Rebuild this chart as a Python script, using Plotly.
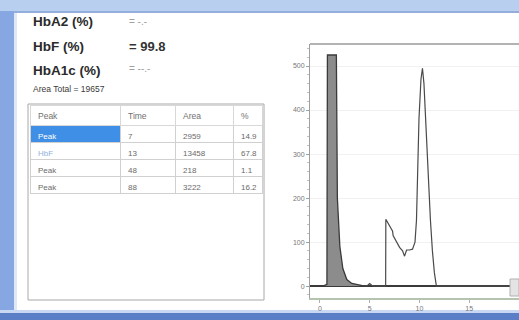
import plotly.graph_objects as go

# ---------------- data ----------------
# results panel
result_labels = ["HbA2 (%)", "HbF (%)", "HbA1c (%)"]
result_values = ["= -.-", "= 99.8", "= --.-"]
area_total = 19657

# peak table
peak_names = ["Peak", "HbF", "Peak", "Peak"]
peak_times = [7, 13, 48, 88]
peak_areas = [2959, 13458, 218, 3222]
peak_pcts = ["14.9", "67.8", "1.1", "16.2"]

# chromatogram: first (off-scale, filled) peak
peak1_time = [0.3, 0.7, 0.75, 1.65, 1.75, 2.0, 2.3, 2.7, 3.2, 4.0, 4.5]
peak1_signal = [0, 4, 525, 525, 200, 90, 40, 15, 6, 2, 0]

# chromatogram: rest of the trace
trace_time = [4.5, 4.8, 5.0, 5.2, 5.5, 6.6, 6.62, 6.9, 7.1, 7.3, 7.35, 7.6, 7.8, 8.0,
              8.3, 8.5, 8.7, 9.0, 9.3, 9.55, 9.7, 9.8, 9.95, 10.15, 10.3, 10.45, 10.7,
              10.9, 11.1, 11.3, 11.5, 11.7, 19.0]
trace_signal = [0, 2, 6, 2, 0, 0, 152, 140, 130, 125, 115, 105, 95, 88,
                80, 68, 82, 82, 84, 100, 150, 270, 380, 470, 495, 460, 330,
                250, 150, 80, 30, 0, 0]

y_ticks = [0, 100, 200, 300, 400, 500]
x_ticks = [0, 5, 10, 15, 20]

W, H = 519, 320


def px(x):
    return x / W


def py(y):
    return 1 - y / H


fig = go.Figure()

# chromatogram traces
fig.add_trace(go.Scatter(x=peak1_time, y=peak1_signal, mode="lines",
                         fill="tozeroy", fillcolor="#8c8c8c",
                         line=dict(color="#3a3a3a", width=1.3),
                         hoverinfo="skip", showlegend=False))
fig.add_trace(go.Scatter(x=trace_time, y=trace_signal, mode="lines",
                         line=dict(color="#4a4a4a", width=1.2),
                         hoverinfo="skip", showlegend=False))

# peak table
n = len(peak_names)
name_fill = ["#3f8fe6"] + ["white"] * (n - 1)
name_color = ["white", "#8fb3df"] + ["#6a6a6a"] * (n - 2)
fig.add_trace(go.Table(
    domain=dict(x=[px(30), px(262)], y=[py(300), py(105)]),
    columnwidth=[90, 55, 58, 29],
    header=dict(values=["Peak", "Time", "Area", "%"],
                align="left", height=20,
                fill_color="white",
                line=dict(color="#d8d8d8", width=1),
                font=dict(family="Liberation Sans", size=8.5, color="#707070")),
    cells=dict(values=[peak_names, peak_times, peak_areas, peak_pcts],
               align="left", height=17,
               fill_color=[name_fill, ["white"] * n, ["white"] * n, ["white"] * n],
               line=dict(color="#d0d0d0", width=1),
               font=dict(family="Liberation Sans", size=8,
                         color=[name_color, ["#6a6a6a"] * n, ["#6a6a6a"] * n, ["#6a6a6a"] * n])),
))

shapes = [
    # window frame
    dict(type="rect", xref="paper", yref="paper", x0=0, x1=px(14), y0=0, y1=1,
         fillcolor="#87a7e2", line=dict(width=0), layer="below"),
    dict(type="rect", xref="paper", yref="paper", x0=px(14), x1=px(17), y0=0, y1=1,
         fillcolor="#dfe8f7", line=dict(width=0), layer="below"),
    dict(type="rect", xref="paper", yref="paper", x0=0, x1=1, y0=py(11), y1=1,
         fillcolor="#b9cff0", line=dict(width=0), layer="below"),
    dict(type="rect", xref="paper", yref="paper", x0=px(14), x1=1, y0=py(13), y1=py(11),
         fillcolor="#93addc", line=dict(width=0), layer="below"),
    dict(type="rect", xref="paper", yref="paper", x0=0, x1=1, y0=0, y1=py(313),
         fillcolor="#5b7fc6", line=dict(width=0), layer="below"),
    dict(type="rect", xref="paper", yref="paper", x0=0, x1=1, y0=py(313), y1=py(310),
         fillcolor="#c9d8f2", line=dict(width=0), layer="below"),
    # table outer box
    dict(type="rect", xref="paper", yref="paper", x0=px(28), x1=px(264), y0=py(300), y1=py(104),
         line=dict(color="#a8a8a8", width=1)),
    # chart top frame line
    dict(type="line", xref="x domain", yref="y domain", x0=0, x1=1, y0=1, y1=1,
         line=dict(color="#9a9a9a", width=1.5)),
    # small box at the right end of the baseline
    dict(type="rect", xref="paper", yref="paper", x0=px(510), x1=px(519), y0=py(296), y1=py(279),
         fillcolor="#e4e4e4", line=dict(color="#b0b0b0", width=1)),
]

annotations = []
label_y = [22, 46, 70]
for lab, val, yy in zip(result_labels, result_values, label_y):
    annotations.append(dict(xref="paper", yref="paper", x=px(31), y=py(yy), text="<b>" + lab + "</b>",
                            showarrow=False, xanchor="left", yanchor="middle",
                            font=dict(family="Liberation Sans", size=13.5, color="#2a2a2a")))
    if "-" in val:
        annotations.append(dict(xref="paper", yref="paper", x=px(127), y=py(yy - 1), text=val,
                                showarrow=False, xanchor="left", yanchor="middle",
                                font=dict(family="Liberation Sans", size=10, color="#a0a0a0")))
    else:
        annotations.append(dict(xref="paper", yref="paper", x=px(127), y=py(yy), text="<b>" + val + "</b>",
                                showarrow=False, xanchor="left", yanchor="middle",
                                font=dict(family="Liberation Sans", size=13, color="#333333")))
annotations.append(dict(xref="paper", yref="paper", x=px(31), y=py(89),
                        text="Area Total = %d" % area_total,
                        showarrow=False, xanchor="left", yanchor="middle",
                        font=dict(family="Liberation Sans", size=8.5, color="#3a3a3a")))

fig.update_layout(
    width=W, height=H,
    margin=dict(l=0, r=0, t=0, b=0),
    paper_bgcolor="white", plot_bgcolor="white",
    shapes=shapes, annotations=annotations,
    showlegend=False,
    xaxis=dict(domain=[px(310), 1.0], range=[-1, 20], tickvals=x_ticks,
               showgrid=False, zeroline=False,
               showline=True, linecolor="#b4c4ae", linewidth=1.5,
               ticks="outside", ticklen=3, tickcolor="#b0b0b0",
               tickfont=dict(family="Liberation Sans", size=7, color="#777777")),
    yaxis=dict(domain=[py(298), py(44)], range=[-27, 550], tickvals=y_ticks,
               showgrid=True, gridcolor="#f1f1f1", gridwidth=1,
               zeroline=True, zerolinecolor="#3a3a3a", zerolinewidth=2,
               showline=True, linecolor="#a0a0a0", linewidth=1,
               ticks="outside", ticklen=3, tickcolor="#a0a0a0",
               minor=dict(ticks="outside", ticklen=2, tickcolor="#c0c0c0", dtick=20),
               tickfont=dict(family="Liberation Sans", size=7, color="#777777")),
)

fig.write_html("out.html")
